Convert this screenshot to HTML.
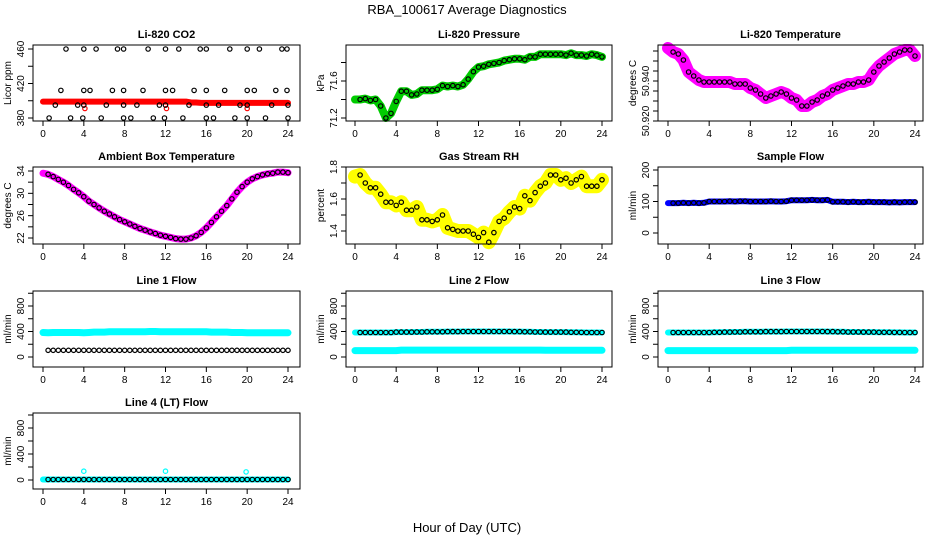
<!DOCTYPE html>
<html><head><meta charset="utf-8">
<style>
html,body{margin:0;padding:0;background:#fff;}
svg{display:block;font-family:"Liberation Sans",Arial,sans-serif;}
</style></head>
<body>
<svg id="chart" width="936" height="540" viewBox="0 0 936 540" xmlns="http://www.w3.org/2000/svg">
<text x="467" y="14" font-size="13" text-anchor="middle">RBA_100617  Average Diagnostics</text>
<text x="467" y="532" font-size="13" text-anchor="middle">Hour of Day (UTC)</text>
</svg>
<script>
// ---- data (half-hour steps 0..24) ----
const xTicks = [0,4,8,12,16,20,24];
const pressure = [71.40,71.40,71.41,71.39,71.40,71.33,71.20,71.25,71.38,71.49,71.49,71.45,71.46,71.50,71.50,71.50,71.51,71.55,71.54,71.55,71.54,71.56,71.62,71.70,71.75,71.76,71.78,71.79,71.80,71.82,71.83,71.84,71.84,71.83,71.86,71.86,71.89,71.89,71.89,71.89,71.89,71.88,71.90,71.88,71.88,71.87,71.89,71.88,71.86];
const licorTemp = [50.9565,50.9545,50.9535,50.9505,50.9445,50.9425,50.9405,50.9395,50.9395,50.9395,50.9395,50.9395,50.9395,50.9385,50.9385,50.9385,50.9365,50.9355,50.9335,50.9315,50.9325,50.9335,50.9345,50.9335,50.9315,50.9305,50.9275,50.9275,50.9295,50.9305,50.9325,50.9335,50.9355,50.9365,50.9375,50.9385,50.9385,50.9395,50.9395,50.9405,50.9445,50.9475,50.9495,50.9515,50.9535,50.9545,50.9555,50.9555,50.9525];
const ambientTemp = [33.6,33.4,33.0,32.5,32.0,31.4,30.7,30.1,29.4,28.6,28.0,27.4,26.8,26.3,25.8,25.3,24.9,24.5,24.1,23.7,23.4,23.1,22.8,22.5,22.3,22.1,21.9,21.8,21.8,22.0,22.4,23.0,23.8,24.8,25.8,26.8,27.8,29.0,30.2,31.2,32.0,32.6,33.0,33.3,33.5,33.6,33.8,33.8,33.7];
const gasRH = [1.74,1.75,1.70,1.67,1.67,1.63,1.58,1.58,1.56,1.58,1.53,1.53,1.55,1.47,1.47,1.46,1.47,1.50,1.42,1.41,1.40,1.40,1.40,1.38,1.36,1.39,1.33,1.39,1.46,1.48,1.52,1.55,1.54,1.62,1.59,1.64,1.68,1.70,1.75,1.75,1.72,1.73,1.70,1.72,1.74,1.68,1.68,1.68,1.72];
const sampleFlow = [95,95,95,96,95,96,95,96,100,100,100,100,101,100,101,101,100,100,100,100,101,100,100,101,104,104,104,104,105,104,104,105,99,99,99,98,99,98,98,99,98,98,98,97,98,97,98,98,98];
const co2Minute = [399,399,399,399,399,399,399,399,399,399,399,399,399,399,399,399,399,399,399,399,399,399,399,399,399,399,399,399,399,398,398,397.5,397.5,397.5,397.5,397.5,397.5,397.5,397.5,397.5,397.5,397.5,397.5,397.5,397.5,397.5,397.5,397.5,397.5];
const co2Times = [2.25,4.0,5.2,7.3,7.9,10.3,12.0,13.3,15.4,16.0,18.3,20.0,21.2,23.4,23.9, 1.75,4.0,4.6,6.8,7.9,9.8,12.0,12.7,14.8,16.0,17.8,20.0,20.7,22.8,23.9, 1.2,3.4,4.0,6.2,7.9,9.2,11.4,12.0,14.3,16.0,17.2,19.3,20.0,22.4,24.0, 0.6,2.7,3.9,5.7,7.9,8.6,10.8,11.9,13.7,16.0,16.7,18.8,20.0,21.8,24.0];
const co2Values = [460,460,460,460,460,460,460,460,460,460,460,460,460,460,460, 412,412,412,412,412,412,412,412,412,412,412,412,412,412,412, 395,395,395,395,395,395,395,395,395,395,395,395,395,395,395, 380,380,380,380,380,380,380,380,380,380,380,380,380,380,380];
const co2OutTimes = [4.1,12.1,20.0];
const co2OutValues = [391,391,391];
const line1Cyan = [385,380,385,385,385,385,385,385,380,385,390,390,390,395,395,395,395,395,395,395,395,400,400,395,395,395,395,395,395,395,395,395,395,390,390,390,390,385,385,385,380,380,380,380,380,380,380,380,380];
const line1Black = [105,105,105,105,105,105,105,105,105,105,105,105,105,105,105,105,105,105,105,105,105,105,105,105,105,105,105,105,105,105,105,105,105,105,105,105,105,105,105,105,105,105,105,105,105,105,105,105,105];
const line2Black = [385,385,385,385,385,385,385,385,390,390,390,390,392,392,395,395,395,395,398,398,398,400,400,400,400,400,400,400,400,400,400,398,398,395,395,392,392,390,390,390,390,390,388,388,386,385,385,385,385];
const line2Cyan = [100,100,100,100,100,100,100,100,100,108,108,108,108,108,108,108,108,108,108,108,108,108,108,108,108,108,108,108,108,108,108,108,108,108,108,108,108,105,105,105,105,105,105,105,105,105,105,105,105];
const line3Black = [385,385,385,385,385,385,385,385,385,388,388,390,390,392,392,395,395,395,395,398,398,398,398,400,400,400,400,400,400,400,400,398,398,395,395,392,392,392,390,390,390,388,388,388,386,386,385,385,385];
const line3Cyan = [100,100,100,100,100,100,100,100,100,100,100,100,100,100,100,100,100,100,100,100,100,100,100,100,105,105,105,105,105,105,105,105,105,105,105,105,105,105,105,105,105,105,105,105,105,105,105,105,105];
const line4Black = [8,8,8,8,8,8,8,8,8,8,8,8,8,8,8,8,8,8,8,8,8,8,8,8,8,8,8,8,8,8,8,8,8,8,8,8,8,8,8,8,8,8,8,8,8,8,8,8,8];
const line4Cyan = [8,8,8,8,8,8,8,8,8,8,8,8,8,8,8,8,8,8,8,8,8,8,8,8,8,8,8,8,8,8,8,8,8,8,8,8,8,8,8,8,8,8,8,8,8,8,8,8,8];
const line4OutTimes = [4.0,12.0,19.9];
const line4OutValues = [135,135,125];

const NS = "http://www.w3.org/2000/svg";
const svg = document.getElementById('chart');
function mk(tag, attrs, parent){
  const e = document.createElementNS(NS, tag);
  for (const k in attrs) e.setAttribute(k, attrs[k]);
  (parent||svg).appendChild(e);
  return e;
}
const cols = [
  {bx0:33, bx1:300, t0:43, t24:288},
  {bx0:346, bx1:612, t0:355, t24:602},
  {bx0:658, bx1:923, t0:668, t24:915}
];
const rows = [{top:45,bot:121},{top:167,bot:244},{top:291,bot:367},{top:413,bot:489}];

function panel(cfg){
  const c = cols[cfg.col], r = rows[cfg.row];
  const g = mk('g', {});
  
  
  const xs = t => c.t0 + t*(c.t24-c.t0)/24;
  const ys = v => cfg.yA + (v-cfg.vA)*(cfg.yB-cfg.yA)/(cfg.vB-cfg.vA);
  const half = i => i*0.5;
  (cfg.bands||[]).forEach(b=>{
    const pts = b.data.map((v,i)=>xs(half(i)).toFixed(1)+','+ys(v).toFixed(1)).join(' ');
    const pl = mk('polyline', {points:pts, fill:'none', stroke:b.color, 'stroke-width':b.w, 'stroke-linejoin':'round','stroke-linecap':'round'}, g);
    
    
  });
  (cfg.dots||[]).forEach(d=>{
    d.data.forEach((v,i)=>{
      if (i===0 && !d.all) return;
      const t = d.times ? d.times[i] : half(i);
      const ci = mk('circle', {cx:xs(t).toFixed(1), cy:ys(v).toFixed(1), r:2.2, fill:'none', stroke:d.color, 'stroke-width':1.2}, g);
      
      
    });
  });
  const box = mk('rect', {x:c.bx0, y:r.top, width:c.bx1-c.bx0, height:r.bot-r.top, fill:'none', stroke:'#000', 'stroke-width':1}, g);
  
  
  const ti = mk('text', {x:(c.bx0+c.bx1)/2, y:r.top-7, 'font-size':11, 'font-weight':'bold', 'text-anchor':'middle'}, g);
  ti.textContent = cfg.title;
  
  
  xTicks.forEach(t=>{
    mk('line', {x1:xs(t), x2:xs(t), y1:r.bot, y2:r.bot+5, stroke:'#000'}, g);
    const tx = mk('text', {x:xs(t), y:r.bot+16, 'font-size':10, 'text-anchor':'middle'}, g);
    tx.textContent = t;
    
    
  });
  cfg.yTicks.forEach(v=>{
    const y = ys(v);
    mk('line', {x1:c.bx0-5, x2:c.bx0, y1:y, y2:y, stroke:'#000'}, g);
  });
  cfg.yLabels.forEach((lab,i)=>{
    const y = ys(cfg.yLabelVals[i]);
    const tx = mk('text', {x:0, y:0, 'font-size':10, 'text-anchor':'middle', transform:`translate(${c.bx0-9},${y}) rotate(-90)`}, g);
    tx.textContent = lab;
    
    
  });
  const yt = mk('text', {x:0, y:0, 'font-size':10, 'text-anchor':'middle', transform:`translate(${c.bx0-22},${(r.top+r.bot)/2}) rotate(-90)`}, g);
  yt.textContent = cfg.ytitle;
  
  
}

const flowTicks=[0,200,400,600,800,1000], flowLabs=['0','400','800'], flowLabV=[0,400,800];

panel({name:'co2-panel', col:0,row:0,title:'Li-820 CO2', ytitle:'Licor ppm', yA:49,vA:460,yB:118,vB:380,
  yTicks:[380,400,420,440,460], yLabels:['380','420','460'], yLabelVals:[380,420,460],
  bands:[{data:co2Minute,color:'#ff0000',w:6}],
  dots:[{data:co2OutValues,times:co2OutTimes,color:'#ff0000',all:true},{data:co2Values,times:co2Times,color:'#000',all:true}]});
panel({name:'pressure-panel', col:1,row:0,title:'Li-820 Pressure', ytitle:'kPa', yA:81,vA:71.6,yB:118,vB:71.2,
  yTicks:[71.2,71.4,71.6,71.8], yLabels:['71.2','71.6'], yLabelVals:[71.2,71.6],
  bands:[{data:pressure,color:'#00cc00',w:8}], dots:[{data:pressure,color:'#000'}]});
panel({name:'licor-temp-panel', col:2,row:0,title:'Li-820 Temperature', ytitle:'degrees C', yA:81,vA:50.940,yB:121,vB:50.920,
  yTicks:[50.920,50.925,50.930,50.935,50.940,50.945,50.950,50.955], yLabels:['50.920','50.940'], yLabelVals:[50.920,50.940],
  bands:[{data:licorTemp,color:'#ff00ff',w:12}], dots:[{data:licorTemp,color:'#000'}]});
panel({name:'ambient-temp-panel', col:0,row:1,title:'Ambient Box Temperature', ytitle:'degrees C', yA:171,vA:34,yB:238,vB:22,
  yTicks:[22,24,26,28,30,32,34], yLabels:['22','26','30','34'], yLabelVals:[22,26,30,34],
  bands:[{data:ambientTemp,color:'#ff00ff',w:7}], dots:[{data:ambientTemp,color:'#000'}]});
panel({name:'gas-rh-panel', col:1,row:1,title:'Gas Stream RH', ytitle:'percent', yA:167,vA:1.8,yB:231,vB:1.4,
  yTicks:[1.4,1.5,1.6,1.7,1.8], yLabels:['1.4','1.6','1.8'], yLabelVals:[1.4,1.6,1.8],
  bands:[{data:gasRH,color:'#ffff00',w:14}], dots:[{data:gasRH,color:'#000'}]});
panel({name:'sample-flow-panel', col:2,row:1,title:'Sample Flow', ytitle:'ml/min', yA:170,vA:200,yB:233,vB:0,
  yTicks:[0,50,100,150,200], yLabels:['0','100','200'], yLabelVals:[0,100,200],
  bands:[{data:sampleFlow,color:'#0000ff',w:6}], dots:[{data:sampleFlow,color:'#000'}]});
panel({name:'line1-flow-panel', col:0,row:2,title:'Line 1 Flow', ytitle:'ml/min', yA:306,vA:800,yB:357,vB:0,
  yTicks:flowTicks, yLabels:flowLabs, yLabelVals:flowLabV,
  bands:[{data:line1Cyan,color:'#00ffff',w:7}], dots:[{data:line1Black,color:'#000'}]});
panel({name:'line2-flow-panel', col:1,row:2,title:'Line 2 Flow', ytitle:'ml/min', yA:306,vA:800,yB:357,vB:0,
  yTicks:flowTicks, yLabels:flowLabs, yLabelVals:flowLabV,
  bands:[{data:line2Cyan,color:'#00ffff',w:7},{data:line2Black,color:'#00ffff',w:6}], dots:[{data:line2Black,color:'#000'}]});
panel({name:'line3-flow-panel', col:2,row:2,title:'Line 3 Flow', ytitle:'ml/min', yA:306,vA:800,yB:357,vB:0,
  yTicks:flowTicks, yLabels:flowLabs, yLabelVals:flowLabV,
  bands:[{data:line3Cyan,color:'#00ffff',w:7},{data:line3Black,color:'#00ffff',w:6}], dots:[{data:line3Black,color:'#000'}]});
panel({name:'line4-flow-panel', col:0,row:3,title:'Line 4 (LT) Flow', ytitle:'ml/min', yA:428,vA:800,yB:480,vB:0,
  yTicks:flowTicks, yLabels:flowLabs, yLabelVals:flowLabV,
  bands:[{data:line4Cyan,color:'#00ffff',w:6}],
  dots:[{data:line4OutValues,times:line4OutTimes,color:'#00ffff',all:true},{data:line4Black,color:'#000'}]});
</script>
</body></html>
